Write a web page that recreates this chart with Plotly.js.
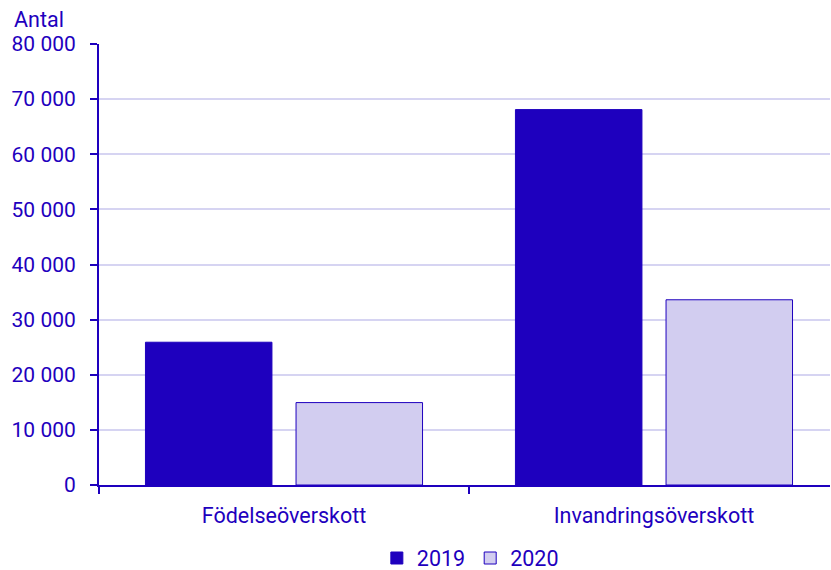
<!DOCTYPE html>
<html>
<head>
<meta charset="utf-8">
<script src="https://cdn.plot.ly/plotly-3.0.1.min.js"></script>
<style>html,body{margin:0;padding:0;background:#fff;}#chart{width:831px;height:570px;}</style>
</head>
<body>
<div id="chart"></div>
<script>
var categories = ["Födelseöverskott", "Invandringsöverskott"];
var series2019 = [25900, 68100];
var series2020 = [14950, 33600];
var seriesNames = ["2019", "2020"];
var yTickVals = [0, 10000, 20000, 30000, 40000, 50000, 60000, 70000, 80000];
var yTickText = ["0", "10 000", "20 000", "30 000", "40 000", "50 000", "60 000", "70 000", "80 000"];
var yTitle = "Antal";

var dark = "#1E00BE";
var light = "#D2CDF0";
var fontFam = "Roboto, Arial, sans-serif";
var fs = 21.5;

var traces = [
  {type: "bar", name: seriesNames[0], x: categories, y: series2019,
   marker: {color: dark, line: {color: dark, width: 1}}, hoverinfo: "none"},
  {type: "bar", name: seriesNames[1], x: categories, y: series2020,
   marker: {color: light, line: {color: dark, width: 1}}, hoverinfo: "none"}
];

var layout = {
  width: 831, height: 570,
  margin: {l: 99, r: 1, t: 44, b: 85, autoexpand: false},
  paper_bgcolor: "#fff", plot_bgcolor: "#fff",
  font: {family: fontFam, size: fs, color: dark},
  barmode: "group",
  bargap: 0.186,
  bargroupgap: 0.16,
  showlegend: true,
  legend: {orientation: "h", xref: "container", yref: "container", x: 0.566, xanchor: "center",
           y: 0.021, yanchor: "middle", font: {size: fs, color: dark}, traceorder: "normal",
           itemwidth: 30},
  xaxis: {
    type: "category",
    automargin: false,
    range: [-0.5, 1.4757],
    showline: true, linecolor: dark, linewidth: 2,
    ticks: "outside", tickson: "boundaries", ticklen: 7, tickcolor: dark, tickwidth: 2,
    ticklabelstandoff: 10,
    showgrid: false, zeroline: false,
    tickfont: {size: fs, color: dark}
  },
  yaxis: {
    automargin: false,
    range: [0, 80000],
    tickvals: yTickVals, ticktext: yTickText,
    showline: true, linecolor: dark, linewidth: 2,
    ticks: "outside", ticklen: 7, tickcolor: dark, tickwidth: 2,
    ticklabelstandoff: 10,
    showgrid: true, gridcolor: "#D6D4F2", gridwidth: 2,
    zeroline: false,
    tickfont: {size: 21, color: dark}
  },
  annotations: [{
    text: yTitle, xref: "paper", yref: "paper", x: -0.119, y: 1.022, xanchor: "left", yanchor: "bottom",
    xshift: 0, showarrow: false, font: {size: fs, color: dark}
  }]
};

Plotly.newPlot("chart", traces, layout, {displayModeBar: false, staticPlot: true});
</script>
</body>
</html>
